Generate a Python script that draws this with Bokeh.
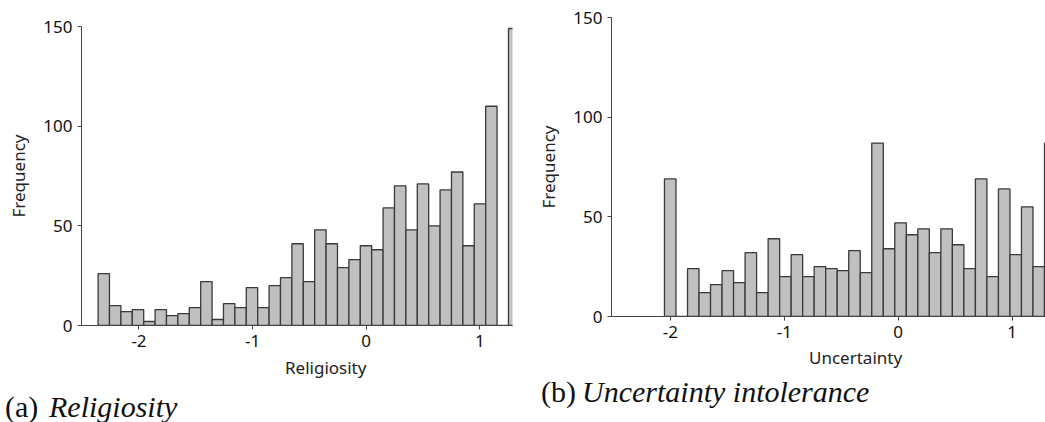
from bokeh.plotting import figure
from bokeh.layouts import row, column
from bokeh.models import Range1d, FixedTicker, ColumnDataSource, CustomJSTickFormatter, Div
from bokeh.embed import file_html
from bokeh.resources import INLINE

# ---------------- data ----------------
# (a) Religiosity histogram: bin start, bin width, counts
religiosity_bin_start = -2.36
religiosity_bin_width = 0.10035
religiosity_counts = [26, 10, 7, 8, 2, 8, 5, 6, 9, 22, 3, 11, 9, 19, 9, 20, 24, 41,
                      22, 48, 41, 29, 33, 40, 38, 59, 70, 48, 71, 50, 68, 77, 40, 61,
                      110, 0, 149]

# (b) Uncertainty intolerance histogram
uncertainty_bin_start = -2.052
uncertainty_bin_width = 0.1011
uncertainty_counts = [69, 0, 24, 12, 16, 23, 17, 32, 12, 39, 20, 31, 20, 25, 24, 23,
                      33, 22, 87, 34, 47, 41, 44, 32, 44, 36, 24, 69, 20, 64, 31, 55,
                      25, 87]

x_ticks = [-2, -1, 0, 1]
y_ticks = [0, 50, 100, 150]

x_label_a = "Religiosity"
x_label_b = "Uncertainty"
y_label = "Frequency"
caption_a = ("(a)", "Religiosity")
caption_b = ("(b)", "Uncertainty intolerance")

SANS = "Noto Sans"
SERIF = "Liberation Serif"
BAR_FILL = "#c0c0c0"
BAR_LINE = "#3a3a3a"
AXIS_COL = "#444444"


def make_plot(counts, start, width, x_rng, fig_w, fig_h, b_top, b_bottom, b_right):
    lefts = [start + i * width for i in range(len(counts))]
    rights = [l + width for l in lefts]
    src = ColumnDataSource(dict(left=lefts, right=rights, top=counts,
                                bottom=[0] * len(counts)))
    p = figure(width=fig_w, height=fig_h, output_backend="svg", toolbar_location=None,
               x_range=Range1d(*x_rng), y_range=Range1d(0, 150),
               min_border_left=81, min_border_right=b_right,
               min_border_top=b_top, min_border_bottom=b_bottom, margin=0)
    p.outline_line_color = None
    p.grid.visible = False
    p.background_fill_color = "white"
    p.border_fill_color = "white"

    p.quad(left="left", right="right", top="top", bottom="bottom", source=src,
           fill_color=BAR_FILL, line_color=BAR_LINE, line_width=1.3)

    for ax in (p.xaxis[0], p.yaxis[0]):
        ax.axis_line_color = AXIS_COL
        ax.major_tick_line_color = AXIS_COL
        ax.major_tick_out = 4
        ax.major_tick_in = 0
        ax.minor_tick_line_color = None
        ax.major_label_text_font = SANS
        ax.major_label_text_font_size = "17px"
        ax.major_label_text_color = "#111111"
        ax.major_label_standoff = 5
        ax.formatter = CustomJSTickFormatter(code="return tick.toFixed(0)")
    p.xaxis[0].ticker = FixedTicker(ticks=x_ticks)
    p.yaxis[0].ticker = FixedTicker(ticks=y_ticks)

    p.yaxis[0].axis_label = y_label
    p.yaxis[0].axis_label_text_font = SANS
    p.yaxis[0].axis_label_text_font_size = "17px"
    p.yaxis[0].axis_label_text_font_style = "normal"
    p.yaxis[0].axis_label_text_color = "#222222"
    p.yaxis[0].axis_label_standoff = 10
    return p


def span(txt, left, top, font, size, italic=False, color="#111111"):
    style = ("position:absolute;white-space:nowrap;margin:0;padding:0;"
             f"left:{left}px;top:{top}px;font-family:'{font}';font-size:{size}px;"
             f"line-height:{size}px;color:{color};"
             f"font-style:{'italic' if italic else 'normal'};")
    return f'<span style="{style}">{txt}</span>'


def make_caption(fig_w, fig_h, xlabel, xlabel_left, xlabel_top, cap, cap_x, cap_x2, cap_top):
    html = (f'<div style="position:relative;width:{fig_w}px;height:{fig_h}px;'
            'overflow:visible;background:white;">'
            + span(xlabel, xlabel_left, xlabel_top, SANS, 17, color="#222222")
            + span(cap[0], cap_x, cap_top, SERIF, 30)
            + span(cap[1], cap_x2, cap_top, SERIF, 30, italic=True)
            + '</div>')
    return Div(text=html, width=fig_w, height=fig_h, margin=0)


# left column: chart 530x356 then caption strip 530x66 (page y 356..422)
p1 = make_plot(religiosity_counts, religiosity_bin_start, religiosity_bin_width,
               (-2.506, 1.288), 530, 356, 26, 31, 18)
c1 = make_caption(530, 66, x_label_a, 285, 3, caption_a, 5, 49, 36)

# right column: chart 515x347 then caption strip 515x75 (page y 347..422)
p2 = make_plot(uncertainty_counts, uncertainty_bin_start, uncertainty_bin_width,
               (-2.517, 1.293), 515, 347, 17, 31, 0)
c2 = make_caption(515, 75, x_label_b, 279, 2, caption_b, 11, 52, 30)

layout = row(column(p1, c1, spacing=0), column(p2, c2, spacing=0), spacing=0)
open("out.html", "w").write(file_html(layout, INLINE))
